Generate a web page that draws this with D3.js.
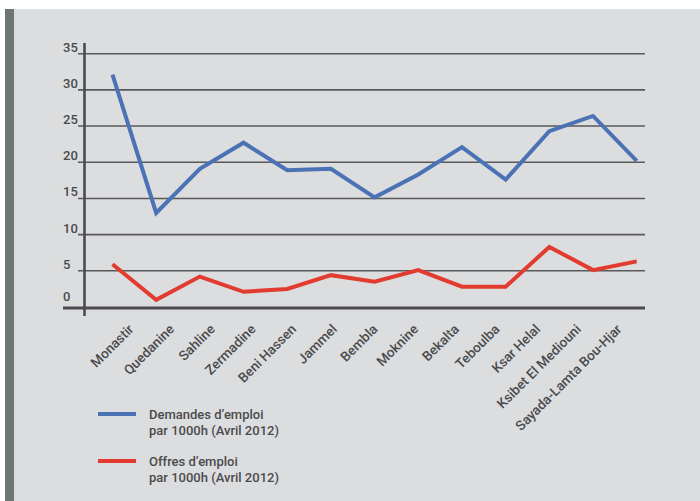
<!DOCTYPE html>
<html lang="fr">
<head>
  <meta charset="UTF-8" />
  <title>Demandes et offres d'emploi</title>
  <script src="https://d3js.org/d3.v7.min.js"></script>
  <style>
    body { margin: 0; background: #fff; }
    svg { display: block; }
    text { font-family: Roboto, "Open Sans", sans-serif; fill: #4a4b4d; font-weight: 500; }
  </style>
</head>
<body>
  <svg id="chart"></svg>
  <script>
    const villes = ["Monastir", "Quedanine", "Sahline", "Zermadine", "Beni Hassen", "Jammel",
                    "Bembla", "Moknine", "Bekalta", "Teboulba", "Ksar Helal",
                    "Ksibet El Mediouni", "Sayada-Lamta Bou-Hjar"];
    const demandes = [32.1, 13.0, 19.1, 22.7, 18.9, 19.1, 15.15, 18.3, 22.1, 17.6, 24.3, 26.4, 20.2];
    const offres   = [5.9, 1.0, 4.2, 2.1, 2.5, 4.4, 3.5, 5.1, 2.8, 2.8, 8.3, 5.1, 6.3];
    const yTicks   = [0, 5, 10, 15, 20, 25, 30, 35];
    const legende  = [
      { lignes: ["Demandes d’emploi", "par 1000h (Avril 2012)"], couleur: "#4a72b5" },
      { lignes: ["Offres d’emploi", "par 1000h (Avril 2012)"], couleur: "#e23b2f" }
    ];

    const W = 700, H = 501;
    const svg = d3.select("#chart").attr("width", W).attr("height", H);

    // panneau gris + bande foncée à gauche
    svg.append("rect").attr("x", 5).attr("y", 9).attr("width", W - 5).attr("height", H - 9)
       .attr("fill", "#dcdddf");
    svg.append("rect").attr("x", 5).attr("y", 9).attr("width", 9).attr("height", H - 9)
       .attr("fill", "#6d7674");

    const x = d3.scalePoint().domain(villes).range([112.5, 636.7]);
    const xLabel = d3.scalePoint().domain(villes).range([134, 622]);
    const y = d3.scaleLinear().domain([0, 35]).range([307, 53.7]);

    // grille
    svg.append("g")
      .selectAll("line")
      .data(yTicks.filter(d => d > 0))
      .join("line")
        .attr("x1", 78).attr("x2", 645)
        .attr("y1", d => y(d)).attr("y2", d => y(d))
        .attr("stroke", "#58595b").attr("stroke-width", 1.6);

    // axes
    svg.append("line")
      .attr("x1", 84.5).attr("x2", 84.5).attr("y1", 43).attr("y2", 316)
      .attr("stroke", "#4a4b4d").attr("stroke-width", 2.6);
    svg.append("line")
      .attr("x1", 63).attr("x2", 645).attr("y1", y(0) + 1).attr("y2", y(0) + 1)
      .attr("stroke", "#4a4b4d").attr("stroke-width", 3);

    // étiquettes Y
    svg.append("g")
      .selectAll("text")
      .data(yTicks)
      .join("text")
        .attr("x", 63)
        .attr("y", d => y(d) - (d === 0 ? 6 : 2))
        .attr("font-size", 13)
        .text(d => d);

    // étiquettes X (inclinées)
    const xAxis = svg.append("g")
      .attr("transform", "translate(0,330)")
      .call(d3.axisBottom(xLabel).tickSize(0).tickPadding(0));
    xAxis.select(".domain").remove();
    xAxis.selectAll("text")
      .attr("y", 0).attr("dy", 0)
      .attr("transform", "rotate(-45)")
      .attr("text-anchor", "end")
      .style("font-family", "Roboto, 'Open Sans', sans-serif")
      .style("font-weight", 500)
      .style("font-size", "13.5px")
      .style("fill", "#4a4b4d");

    // courbes
    const ligne = d3.line().x((d, i) => x(villes[i])).y(d => y(d));
    [[demandes, legende[0].couleur], [offres, legende[1].couleur]].forEach(([serie, c]) => {
      svg.append("path")
        .datum(serie)
        .attr("d", ligne)
        .attr("fill", "none")
        .attr("stroke", c)
        .attr("stroke-width", 4)
        .attr("stroke-linejoin", "miter");
    });

    // légende
    const leg = svg.append("g")
      .selectAll("g")
      .data(legende)
      .join("g")
        .attr("transform", (d, i) => `translate(0,${414 + i * 47})`);
    leg.append("line")
      .attr("x1", 98).attr("x2", 136).attr("y1", 0).attr("y2", 0)
      .attr("stroke", d => d.couleur).attr("stroke-width", 4);
    leg.append("text")
      .attr("x", 149).attr("y", 5)
      .attr("font-size", 13)
      .selectAll("tspan")
      .data(d => d.lignes)
      .join("tspan")
        .attr("x", 149)
        .attr("dy", (d, i) => i === 0 ? 0 : 15.5)
        .text(d => d);
  </script>
</body>
</html>
